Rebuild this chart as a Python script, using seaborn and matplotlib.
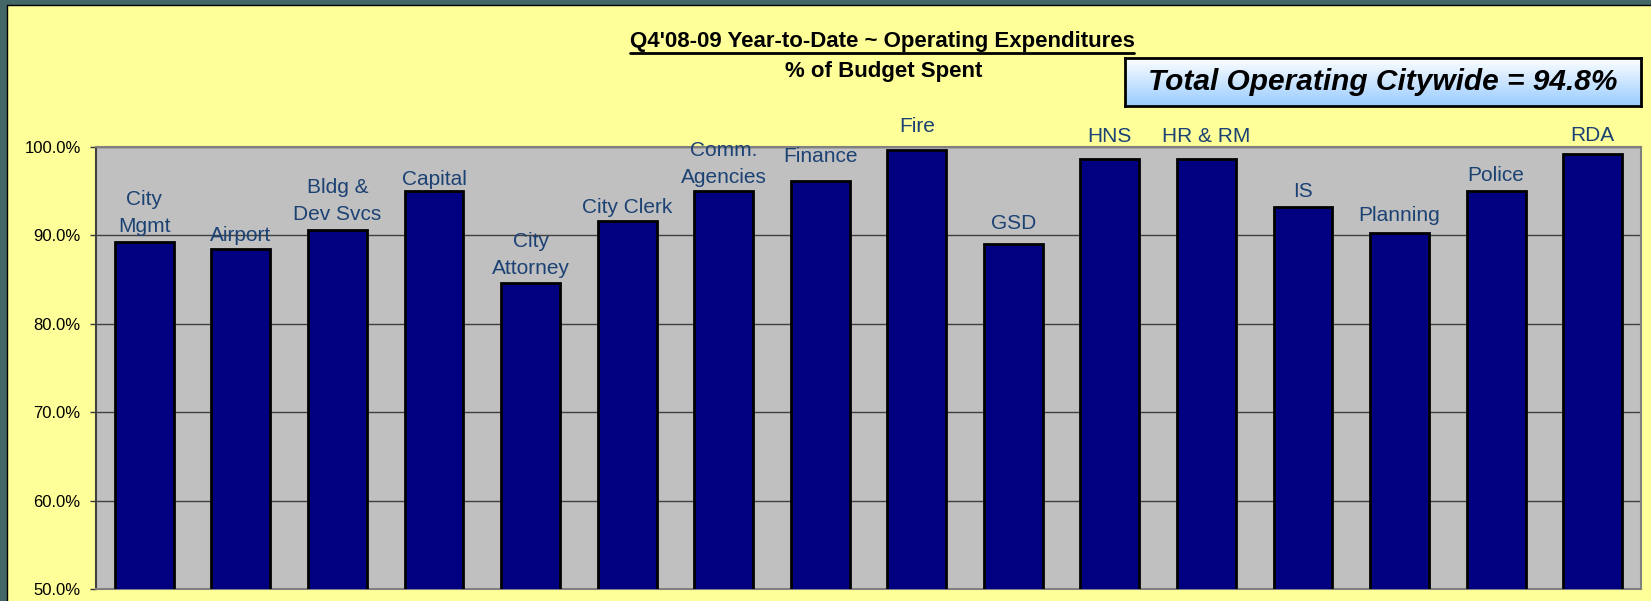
import numpy as np
import matplotlib
matplotlib.use("Agg")
import matplotlib.pyplot as plt
from matplotlib.lines import Line2D
from matplotlib.patches import Rectangle
import seaborn as sns

# ===== data =====
departments = ["City\nMgmt", "Airport", "Bldg &\nDev Svcs", "Capital", "City\nAttorney",
               "City Clerk", "Comm.\nAgencies", "Finance", "Fire", "GSD", "HNS",
               "HR & RM", "IS", "Planning", "Police", "RDA"]
pct_spent = [89.3, 88.5, 90.6, 95.0, 84.6, 91.6, 95.0, 96.1, 99.7, 89.0, 98.6,
             98.6, 93.2, 90.3, 95.0, 99.2]
y_ticks = [50, 60, 70, 80, 90, 100]
title_main = "Q4'08-09 Year-to-Date ~ Operating Expenditures"
title_sub = "% of Budget Spent"
total_text = "Total Operating Citywide = 94.8%"

# label lift above each bar (px), hand placed like the original
label_lift = [5.3, 3.9, 5.9, 1.9, 5.6, 4.2, 4.6, 15.6, 13.6, 11.3, 13.6,
              13.6, 6.6, 8.2, 6.6, 8.6]

sns.set_style("white")
plt.rcParams['font.family'] = ['Liberation Sans', 'DejaVu Sans']

fig = plt.figure(figsize=(16.51, 6.01), dpi=100, facecolor="#FFFF99")
W, H = 1651, 601

# dark frame on top / left
fig.patches.append(Rectangle((0, 1 - 5 / H), 1, 5 / H, transform=fig.transFigure,
                             facecolor="#446666", edgecolor="none", zorder=0))
fig.patches.append(Rectangle((0, 0), 7 / W, 1, transform=fig.transFigure,
                             facecolor="#446666", edgecolor="none", zorder=0))
fig.lines.append(Line2D([7 / W, 1], [1 - 5 / H, 1 - 5 / H], transform=fig.transFigure,
                        color="black", lw=1))
fig.lines.append(Line2D([7 / W, 7 / W], [0, 1 - 5 / H], transform=fig.transFigure,
                        color="black", lw=1))

ax = fig.add_axes([96 / W, 1 - 589 / H, (1641 - 96) / W, (589 - 147) / H])
ax.set_facecolor("#C0C0C0")

sns.barplot(x=list(range(len(departments))), y=pct_spent, color="#000080", saturation=1,
            width=0.61, edgecolor="black", linewidth=2, ax=ax, zorder=3)

ax.set_ylim(50, 100)
ax.set_xlim(-0.5, len(departments) - 0.5)
ax.set_yticks(y_ticks)
ax.set_yticklabels([f"{t:.1f}%" for t in y_ticks], fontsize=12, color="black")
ax.tick_params(axis="y", length=4, width=1, color="#333333", pad=7, left=True)
ax.set_xticks([])
ax.set_xlabel("")
ax.yaxis.grid(True, color="#404040", lw=1)
ax.set_axisbelow(True)
for s in ax.spines.values():
    s.set_color("#808080")
    s.set_linewidth(1.5)
ax.spines["left"].set_color("#404040")

for i, (lab, v) in enumerate(zip(departments, pct_spent)):
    ax.annotate(lab, (i, v), xytext=(0, label_lift[i] * 0.72), textcoords="offset points",
                ha="center", va="bottom", fontsize=15, color="#1C4274",
                linespacing=1.53, annotation_clip=False, zorder=5)

# titles
t1 = fig.text(882 / W, 1 - 41 / H, title_main, ha="center", va="center",
              fontsize=16, fontweight="bold", color="black")
fig.text(884 / W, 1 - 72 / H, title_sub, ha="center", va="center",
         fontsize=16, fontweight="bold", color="black")
fig.canvas.draw()
bb = t1.get_window_extent().transformed(fig.transFigure.inverted())
fig.lines.append(Line2D([bb.x0, bb.x1], [bb.y0 - 1 / H, bb.y0 - 1 / H],
                        transform=fig.transFigure, color="black", lw=2))

# total box with gradient
bx = fig.add_axes([1125 / W, 1 - 106 / H, (1641 - 1125) / W, (106 - 58) / H])
grad = np.linspace(0, 1, 100).reshape(-1, 1)
cmap = matplotlib.colors.LinearSegmentedColormap.from_list("g", ["#FFFFFF", "#99CCFF"])
bx.imshow(grad, aspect="auto", cmap=cmap, extent=[0, 1, 0, 1], origin="upper")
bx.set_xticks([])
bx.set_yticks([])
for s in bx.spines.values():
    s.set_color("black")
    s.set_linewidth(2)
bx.text(0.5, 0.5, total_text, ha="center", va="center", fontsize=21.5,
        fontweight="bold", fontstyle="italic", color="black", transform=bx.transAxes)

fig.savefig("out.png", dpi=100, facecolor=fig.get_facecolor())
